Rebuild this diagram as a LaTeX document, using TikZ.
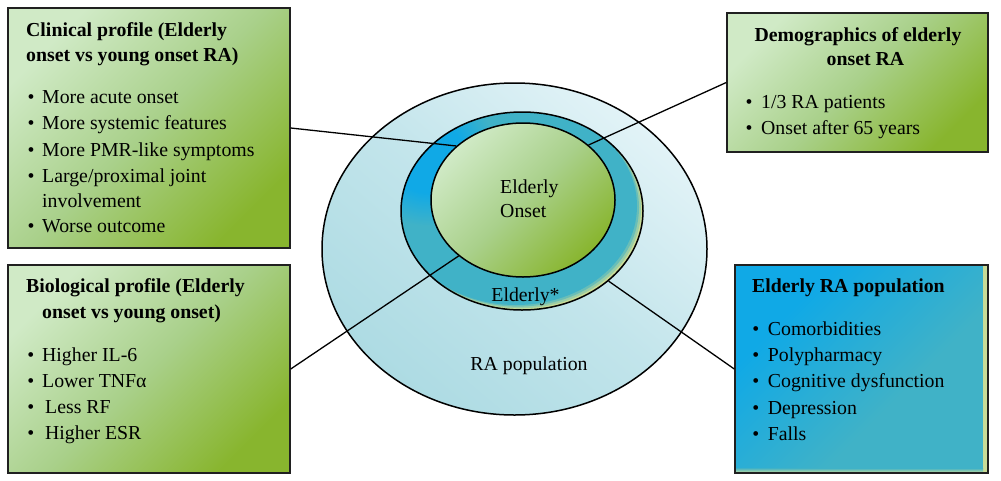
\documentclass[tikz,border=0pt]{standalone}
\usepackage{fontspec}
\setmainfont{Liberation Serif}
\usetikzlibrary{shapes.geometric,calc}

\definecolor{gLight}{HTML}{D0EAC6}
\definecolor{gMid}{HTML}{A9D08A}
\definecolor{gDark}{HTML}{88B52E}
\definecolor{bBright}{HTML}{10A9E6}
\definecolor{bTeal}{HTML}{40B2C7}
\definecolor{yGlow}{HTML}{CADC96}
\definecolor{cyLight}{HTML}{E2F3F7}
\definecolor{cyBase}{HTML}{ADDBE3}
\definecolor{edgeC}{HTML}{202020}

\pgfdeclareradialshading{bluespot}{\pgfpoint{0bp}{0bp}}{color(0bp)=(bBright); color(13bp)=(bBright); color(25bp)=(bTeal); color(50bp)=(bTeal)}
\pgfdeclareverticalshading{boxblue}{100bp}{color(0bp)=(bTeal); color(40bp)=(bTeal); color(70bp)=(bBright); color(100bp)=(bBright)}

\newcommand\bul[5]{\node[txt] (#1) at (#2,#3) {\makebox[#4pt][l]{•}#5};}

\begin{document}
\begin{tikzpicture}[x=1pt,y=-1pt,
  font=\fontsize{19.8pt}{26pt}\selectfont,
  txt/.style={anchor=base west, inner sep=0pt},
  ttl/.style={anchor=base west, inner sep=0pt, font=\fontsize{19.8pt}{26pt}\selectfont\bfseries},
  greenbox/.style={rectangle, draw=edgeC, line width=1.4pt, inner sep=0pt,
    top color=gLight, bottom color=gDark, middle color=gMid, shading angle=45},
  bluebox/.style={rectangle, draw=edgeC, line width=1.4pt, inner sep=0pt,
    shading=boxblue, shading angle=45,
    path picture={
      \shade[left color=bTeal, right color=yGlow]
        ([xshift=-5pt]path picture bounding box.north east) rectangle (path picture bounding box.south east);
      \shade[top color=bTeal, bottom color=yGlow]
        ([yshift=5pt]path picture bounding box.south west) rectangle ([xshift=-5pt]path picture bounding box.south east);
    }},
  ring/.style={ellipse, draw=black, line width=1.5pt, inner sep=0pt},
  conn/.style={draw=black, line width=1.3pt}
]
\path[use as bounding box, fill=white] (0,0) rectangle (1001,480);

% ellipses
\node[ring, minimum width=385pt, minimum height=332pt,
  top color=cyLight, bottom color=cyBase, middle color=cyBase!60!cyLight, shading angle=-40]
  (outer) at (514.5,249) {};
\node[ring, minimum width=242pt, minimum height=198pt, fill=yGlow,
  path picture={
    \fill[yGlow!65!bTeal] ([shift={(-2pt,1.7pt)}]path picture bounding box.center) ellipse (121pt and 99pt);
    \fill[yGlow!30!bTeal] ([shift={(-4pt,3.4pt)}]path picture bounding box.center) ellipse (121pt and 99pt);
    \fill[bTeal] ([shift={(-6pt,5pt)}]path picture bounding box.center) ellipse (121pt and 99pt);
    \shade[shading=bluespot] ([shift={(-95pt,55pt)}]path picture bounding box.center) circle (70pt);
  }] (middle) at (522,211) {};
\node[ring, minimum width=184pt, minimum height=154pt,
  top color=gLight, bottom color=gDark, middle color=gMid, shading angle=45]
  (inner) at (523,200) {};

% boxes
\node[greenbox, minimum width=282pt, minimum height=240pt] (clin) at (149,128) {};
\node[greenbox, minimum width=282pt, minimum height=208pt] (bio) at (149,369) {};
\node[greenbox, minimum width=261pt, minimum height=139pt] (demo) at (857.5,82.5) {};
\node[bluebox, minimum width=253pt, minimum height=208pt] (pop) at (861.5,369) {};

% connectors
\draw[conn] (clin.east) -- (inner.141);
\draw[conn] (bio.east) -- (inner.221);
\draw[conn] (demo.west) -- (inner.40);
\draw[conn] (pop.west) -- (middle.-39);

% circle texts
\node[txt] (eo1) at (500,193) {Elderly};
\node[txt] (eo2) at (500,217) {Onset};
\node[anchor=base, inner sep=0pt] (eld) at (525.5,301) {Elderly*};
\node[anchor=base, inner sep=0pt] (rap) at (529,370) {RA population};

% box 1
\node[ttl] (t1a) at (26,36) {Clinical profile (Elderly};
\node[ttl] (t1b) at (26,61) {onset vs young onset RA)};
\bul{c1}{27.5}{103}{14.5}{More acute onset}
\bul{c2}{27.5}{129}{14.5}{More systemic features}
\bul{c3}{27.5}{156}{14.5}{More PMR-like symptoms}
\bul{c4}{27.5}{182}{14.5}{Large/proximal joint}
\node[txt] (c4b) at (42,207) {involvement};
\bul{c5}{27.5}{232}{14.5}{Worse outcome}

% box 2
\node[ttl] (t2a) at (26,292) {Biological profile (Elderly};
\node[ttl] (t2b) at (42,318) {onset vs young onset)};
\bul{b1}{27.2}{361}{14.8}{Higher IL-6}
\bul{b2}{27.2}{387}{14.8}{Lower TNFα}
\bul{b3}{27.2}{413}{17.8}{Less RF}
\bul{b4}{27.2}{439}{17.8}{Higher ESR}

% box 3
\node[anchor=base, inner sep=0pt, font=\fontsize{19.8pt}{26pt}\selectfont\bfseries] (t3a) at (858,41) {Demographics of elderly};
\node[anchor=base, inner sep=0pt, font=\fontsize{19.8pt}{26pt}\selectfont\bfseries] (t3b) at (865.5,65) {onset RA};
\bul{d1}{745.5}{108}{15.5}{1/3 RA patients}
\bul{d2}{745.5}{134}{15.5}{Onset after 65 years}

% box 4
\node[ttl] (t4) at (752,292) {Elderly RA population};
\bul{p1}{752.2}{335}{15.5}{Comorbidities}
\bul{p2}{752.2}{361}{15.5}{Polypharmacy}
\bul{p3}{752.2}{387}{15.5}{Cognitive dysfunction}
\bul{p4}{752.2}{414}{15.5}{Depression}
\bul{p5}{752.2}{440}{15.5}{Falls}
\end{tikzpicture}
\end{document}
